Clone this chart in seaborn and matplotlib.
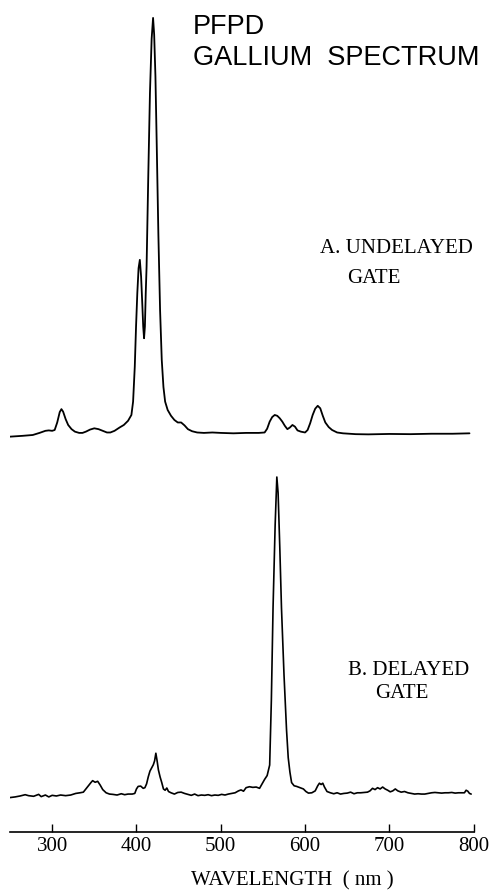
import numpy as np
import pandas as pd
import matplotlib
matplotlib.use("Agg")
import matplotlib.pyplot as plt
import seaborn as sns

# ---- data ----
wl_a = [250, 265, 277, 285, 292, 296, 300, 303, 306, 309, 311, 313, 316, 319, 323, 327, 332, 336,
        340, 345, 350, 355, 360, 365, 369, 374, 380, 385, 390, 394, 396, 398, 399.5, 401, 402.5,
        404, 405.5, 407, 408, 409, 410, 411, 412, 414, 416, 418, 419.7, 421, 422.5, 424, 426, 428,
        430, 432, 434, 437, 441, 445, 449, 453, 457, 461, 466, 472, 480, 490, 500, 515, 530, 545,
        552, 555, 558, 561, 564, 567, 570, 573, 576, 579, 582, 585, 588, 591, 595, 600, 603, 606,
        609, 612, 615, 618, 621, 624, 628, 632, 638, 645, 660, 675, 700, 725, 750, 775, 795]
int_a = [-0.4, -0.2, 0.0, 0.5, 1.0, 1.1, 1.0, 1.2, 3.0, 5.5, 6.2, 5.6, 3.8, 2.4, 1.4, 0.8, 0.5, 0.5,
         0.8, 1.3, 1.6, 1.4, 1.0, 0.6, 0.6, 1.0, 1.8, 2.4, 3.4, 4.8, 8.0, 16.4, 26, 34, 40,
         42, 38, 31, 26, 23.2, 26, 34, 40.4, 62, 82, 95, 100, 96, 86, 70, 48, 30,
         18, 11.5, 8.0, 6.0, 4.6, 3.6, 3.0, 3.0, 2.3, 1.4, 0.9, 0.6, 0.5, 0.6, 0.5, 0.4, 0.5, 0.5,
         0.6, 1.5, 3.2, 4.3, 4.8, 4.6, 4.0, 3.2, 2.2, 1.4, 1.8, 2.4, 2.0, 1.1, 0.8, 0.6, 1.2, 2.8,
         4.8, 6.3, 7.0, 6.4, 4.6, 3.0, 1.9, 1.2, 0.6, 0.4, 0.2, 0.15, 0.25, 0.2, 0.3, 0.3, 0.4]

wl_b = [250, 256, 262, 268, 272, 278, 284, 287, 292, 296, 300, 305, 310, 316, 322, 328, 333, 337,
        340, 343, 346, 348, 351, 354, 357, 360, 364, 368, 372, 377, 382, 386, 390, 395, 398, 400,
        402, 405, 408, 410, 412, 414, 416, 418, 420, 421.5, 423, 424.5, 426, 428, 430, 432, 434,
        436, 438, 441, 445, 449, 453, 457, 461, 465, 469, 473, 477, 481, 485, 489, 493, 497, 501,
        505, 509, 513, 517, 521, 524, 527, 530, 534, 538, 542, 546, 549, 552, 555, 558, 560, 562,
        564.5, 566.5, 568, 570, 572, 575, 578, 580, 582, 584, 587, 590, 594, 598, 601, 604, 608,
        612, 615, 617, 619, 621, 623, 626, 630, 634, 638, 642, 646, 650, 654, 658, 662, 666, 670,
        674, 677, 680, 683, 686, 689, 692, 695, 698, 701, 704, 707, 710, 714, 718, 722, 726, 730,
        734, 738, 742, 746, 750, 754, 758, 762, 766, 770, 774, 778, 782, 786, 789, 791, 793, 795, 797]
int_b = [-0.5, -0.3, 0.0, 0.4, 0.1, -0.1, 0.5, -0.2, 0.3, -0.3, 0.2, 0.0, 0.3, 0.1, 0.3, 0.8, 1.0, 1.2,
         2.2, 3.2, 4.2, 4.8, 4.3, 4.6, 3.4, 2.0, 1.0, 0.6, 0.5, 0.3, 0.7, 0.4, 0.6, 0.6, 0.8, 2.2,
         3.0, 3.1, 2.4, 2.6, 3.8, 6.0, 7.8, 8.8, 9.8, 11.0, 13.4, 11.0, 8.2, 6.0, 4.2, 2.2, 1.8,
         2.5, 1.4, 1.0, 0.6, 1.1, 1.2, 0.8, 0.5, 0.2, 0.6, 0.1, 0.3, 0.2, 0.4, 0.1, 0.3, 0.2, 0.5,
         0.3, 0.6, 0.8, 1.0, 1.6, 1.9, 1.5, 2.6, 2.9, 2.7, 2.8, 2.4, 3.8, 5.2, 6.4, 9.7, 30, 59,
         85, 100, 95, 78, 59, 38, 20.7, 12, 7.5, 4.2, 3.2, 3.0, 2.6, 2.2, 1.4, 0.9, 1.0,
         1.6, 3.2, 4.0, 3.6, 4.0, 2.8, 1.4, 1.0, 0.7, 1.0, 0.6, 0.8, 0.9, 1.2, 0.7, 1.0, 1.0, 1.1,
         1.2, 1.6, 2.4, 2.0, 2.6, 2.2, 2.8, 2.2, 1.8, 1.3, 1.6, 2.2, 1.6, 1.2, 1.4, 1.0, 0.8, 0.6,
         0.7, 0.6, 0.6, 0.8, 1.0, 1.1, 1.0, 0.9, 1.0, 1.0, 1.1, 0.9, 1.0, 1.0, 1.0, 1.8, 1.5, 0.8, 0.6]

x_ticks = [300, 400, 500, 600, 700, 800]
x_label = "WAVELENGTH  ( nm )"
title_lines = ["PFPD", "GALLIUM  SPECTRUM"]
label_a = ["A. UNDELAYED", "GATE"]
label_b = ["B. DELAYED", "GATE"]

df_a = pd.DataFrame({"wavelength": wl_a, "intensity": int_a})
df_b = pd.DataFrame({"wavelength": wl_b, "intensity": int_b})

sns.set_style("white")
plt.rcParams["font.family"] = ["Liberation Serif", "DejaVu Serif"]
plt.rcParams["text.color"] = "black"

W, H = 494, 891
fig = plt.figure(figsize=(W / 100, H / 100), dpi=100)

def fx(px):
    return px / W

def fy(py):
    return 1 - py / H

left = fx(10)
width = fx(473.7) - left

# top panel (undelayed gate)
ax_a = fig.add_axes([left, fy(445), width, fy(10) - fy(445)])
sns.lineplot(data=df_a, x="wavelength", y="intensity", ax=ax_a, color="black", lw=1.3,
             sort=False, estimator=None)
ax_a.set_xlim(250, 800)
ax_a.set_ylim(-2.4, 101.9)
ax_a.axis("off")

# bottom panel (delayed gate)
ax_b = fig.add_axes([left, fy(831.7), width, fy(470) - fy(831.7)])
sns.lineplot(data=df_b, x="wavelength", y="intensity", ax=ax_b, color="black", lw=1.2,
             sort=False, estimator=None)
ax_b.set_xlim(250, 800)
ax_b.set_ylim(-11.2, 102.2)
for s in ["left", "right", "top"]:
    ax_b.spines[s].set_visible(False)
ax_b.spines["bottom"].set_linewidth(1.2)
ax_b.spines["bottom"].set_color("black")
ax_b.set_yticks([])
ax_b.set_xticks(x_ticks)
ax_b.tick_params(axis="x", direction="in", length=6, width=1.0, pad=4,
                 labelsize=15, colors="black", bottom=True)
ax_b.set_xlabel("")
ax_b.set_ylabel("")

# texts
sans = ["Liberation Sans", "DejaVu Sans"]
fig.text(fx(193), fy(34), title_lines[0], fontsize=19.5, family=sans, ha="left", va="baseline")
fig.text(fx(193), fy(65), title_lines[1], fontsize=19.5, family=sans, ha="left", va="baseline")
fig.text(fx(320), fy(253), label_a[0], fontsize=15, ha="left", va="baseline")
fig.text(fx(347), fy(283), label_a[1], fontsize=15, ha="left", va="baseline")
fig.text(fx(348), fy(675), label_b[0], fontsize=15, ha="left", va="baseline")
fig.text(fx(375), fy(698), label_b[1], fontsize=15, ha="left", va="baseline")
fig.text(fx(292), fy(885), x_label, fontsize=15, ha="center", va="baseline")

fig.savefig("out.png", dpi=100)
